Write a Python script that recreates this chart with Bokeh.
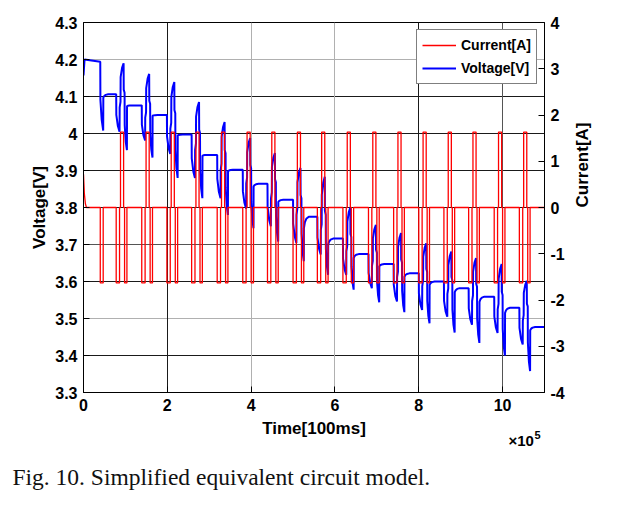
import math
from bokeh.plotting import figure
from bokeh.models import (Range1d, LinearAxis, FixedTicker, Grid, Label,
                          Legend, LegendItem, CustomJSTickFormatter)
from bokeh.embed import file_html
from bokeh.resources import INLINE

# ---------------- data ----------------
time_ticks = [0, 200000, 400000, 600000, 800000, 1000000]
voltage_ticks = [3.3, 3.4, 3.5, 3.6, 3.7, 3.8, 3.9, 4.0, 4.1, 4.2, 4.3]
current_ticks = [-4, -3, -2, -1, 0, 1, 2, 3, 4]

# grid lines as they appear (dark / mid / light)
grid_v_dark = [3.4, 3.6, 3.8, 3.9, 4.0, 4.1]
grid_v_mid = [3.7]
grid_v_light = [3.5, 4.2]
grid_t_dark = [200000, 800000]
grid_t_mid = [1000000]
grid_t_light = [400000, 600000]

# start of the record
start_time = [0, 2500, 40000]
start_voltage = [4.157, 4.200, 4.194]
start_current_time = [0, 2000, 4500, 7000]
start_current = [0.72, 0.30, 0.08, 0.0]

# first single discharge pulse
first_pulse = [40000, 47000]
first_dip = 4.008
first_after = 4.097

# test cycles (discharge - charge - discharge pulses), centre of the charge pulse [100 ms]
cycle_centre = [92000, 153000, 213000, 272000, 333000, 394000, 453000, 514000, 572000,
                633000, 694000, 754000, 814000, 874000, 933000, 994000, 1054000]
pulse_current = 1.63
rest_voltage = [4.106, 4.076, 4.050, 3.997, 3.942, 3.902, 3.864, 3.821, 3.775,
                3.716, 3.674, 3.647, 3.622, 3.600, 3.582, 3.559, 3.529, 3.477]
dip1_voltage = [4.005, 3.981, 3.945, 3.880, 3.825, 3.797, 3.749, 3.704, 3.673,
                3.618, 3.582, 3.546, 3.523, 3.505, 3.483, 3.461, 3.430]
peak_voltage = [4.190, 4.161, 4.139, 4.085, 4.031, 3.988, 3.947, 3.907, 3.883,
                3.800, 3.753, 3.731, 3.703, 3.681, 3.663, 3.647, 3.602]
dip2_voltage = [3.955, 3.935, 3.880, 3.825, 3.780, 3.744, 3.708, 3.655, 3.618,
                3.578, 3.544, 3.517, 3.487, 3.462, 3.434, 3.400, 3.358]
after_voltage = [4.074, 4.048, 3.995, 3.940, 3.898, 3.857, 3.815, 3.744, 3.700,
                 3.664, 3.641, 3.613, 3.591, 3.571, 3.545, 3.515, 3.468]
t_end = 1100000

# pulse timing relative to the cycle centre
NEG1 = (-14000, -6000)
POS = (-3700, 3700)
NEG2 = (6000, 11600)
EPS = 300

# ---------------- build the traces ----------------
ct = list(start_current_time)
ci = list(start_current)


def step(t0, t1, amp):
    ct.extend([t0, t0, t1, t1])
    ci.extend([0.0, amp, amp, 0.0])


step(first_pulse[0], first_pulse[1], -pulse_current)
for c in cycle_centre:
    step(c + NEG1[0], c + NEG1[1], -pulse_current)
    step(c + POS[0], c + POS[1], pulse_current)
    step(c + NEG2[0], c + NEG2[1], -pulse_current)
ct.append(t_end)
ci.append(0.0)

vt = list(start_time)
vv = list(start_voltage)


def ramp(t0, t1, v0, v1):
    vt.extend([t0 + EPS, (t0 + t1) / 2, t1])
    vv.extend([v0 + 0.55 * (v1 - v0), v0 + 0.85 * (v1 - v0), v1])


def relax(t0, v0, v1, t_stop):
    for dt, f in zip([EPS, 2500, 6000, 12000], [0.0, 0.5, 0.82, 1.0]):
        vt.append(t0 + dt)
        vv.append(v0 + (v1 - v0) * f)
    vt.append(t_stop)
    vv.append(v1)


ramp(first_pulse[0], first_pulse[1], start_voltage[-1], first_dip)
relax(first_pulse[1], first_after, rest_voltage[0], cycle_centre[0] + NEG1[0])
for k, c in enumerate(cycle_centre):
    vr = rest_voltage[k]
    d1, pk, d2 = dip1_voltage[k], peak_voltage[k], dip2_voltage[k]
    ramp(c + NEG1[0], c + NEG1[1], vr, d1)
    vt.extend([c + NEG1[1] + EPS, c + POS[0]])
    vv.extend([vr - 0.35 * (vr - d1), vr - 0.2 * (vr - d1)])
    ramp(c + POS[0], c + POS[1], vr, pk)
    vt.extend([c + POS[1] + EPS, c + NEG2[0]])
    vv.extend([vr + 0.15 * (pk - vr), vr + 0.05 * (pk - vr)])
    ramp(c + NEG2[0], c + NEG2[1], vr, d2)
    stop = cycle_centre[k + 1] + NEG1[0] if k + 1 < len(cycle_centre) else t_end
    relax(c + NEG2[1], after_voltage[k], rest_voltage[k + 1], stop)

# ---------------- figure ----------------
FONT = "Liberation Sans"
W, H = 604, 500
FL, FR, FT, FB = 83, 547, 22, 392   # frame edges on the page
# bottoms of the stacked label panels below the x axis (measured from earlier renders)
PANEL_X10, PANEL_SUP, PANEL_CAP = 461, 467, 500

p = figure(width=W, height=H, x_range=Range1d(0, 1.1e6), y_range=Range1d(3.3, 4.3),
           output_backend="svg", toolbar_location=None,
           min_border_left=FL, min_border_right=W - FR, min_border_top=FT,
           min_border_bottom=H - FB,
           x_axis_label="Time[100ms]", y_axis_label="Voltage[V]")
p.extra_y_ranges = {"current": Range1d(-4, 4)}
p.background_fill_color = "white"
p.border_fill_color = "white"
p.outline_line_color = "black"
p.outline_line_alpha = 1.0
p.outline_line_width = 1
p.xgrid.visible = False
p.ygrid.visible = False


def style_axis(ax, ticks, code, label_standoff):
    ax.ticker = FixedTicker(ticks=ticks)
    ax.formatter = CustomJSTickFormatter(code=code)
    ax.major_tick_in = 6
    ax.major_tick_out = 0
    ax.minor_tick_in = 0
    ax.minor_tick_out = 0
    ax.axis_line_color = "black"
    ax.major_tick_line_color = "black"
    ax.major_label_text_font = FONT
    ax.major_label_text_font_size = "16px"
    ax.major_label_text_font_style = "bold"
    ax.major_label_text_color = "black"
    ax.major_label_standoff = 6
    ax.axis_label_text_font = FONT
    ax.axis_label_text_font_size = "17px"
    ax.axis_label_text_font_style = "bold"
    ax.axis_label_text_color = "black"
    ax.axis_label_standoff = label_standoff


style_axis(p.xaxis[0], time_ticks, "return (tick/1e5).toFixed(0);", 5)
style_axis(p.yaxis[0], voltage_ticks,
           "return Math.abs(tick - Math.round(tick)) < 1e-6 ? tick.toFixed(0) : tick.toFixed(1);", 3)

right = LinearAxis(y_range_name="current", axis_label="Current[A]")
style_axis(right, current_ticks, "return tick.toFixed(0);", 15)
right.axis_label_orientation = math.pi / 2
p.add_layout(right, "right")

for dim, ticks, col in [(1, grid_v_dark, "#1a1a1a"), (1, grid_v_mid, "#555555"),
                        (1, grid_v_light, "#b0b0b0"), (0, grid_t_dark, "#1a1a1a"),
                        (0, grid_t_mid, "#555555"), (0, grid_t_light, "#b0b0b0")]:
    p.add_layout(Grid(dimension=dim, ticker=FixedTicker(ticks=ticks),
                      grid_line_color=col, grid_line_width=1))

rv = p.line(vt, vv, line_color="#0000FF", line_width=2)
rc = p.line(ct, ci, line_color="#FF0000", line_width=1.3, y_range_name="current")

legend = Legend(items=[LegendItem(label="Current[A]", renderers=[rc]),
                       LegendItem(label="Voltage[V]", renderers=[rv])],
                location="top_right", margin=7, padding=5, spacing=3,
                glyph_width=34, glyph_height=20, label_height=20, label_standoff=5,
                label_text_font=FONT, label_text_font_size="14px",
                label_text_font_style="bold", label_text_color="black",
                border_line_color="black", border_line_width=1,
                background_fill_color="white", background_fill_alpha=1.0)
p.add_layout(legend)

# texts below the axis live in side panels (annotations in the centre are clipped)
p.add_layout(Label(x=508 - FL, y=PANEL_X10 - 444, x_units="screen", y_units="screen",
                   text="×10", text_baseline="alphabetic",
                   text_font=FONT, text_font_size="15px", text_font_style="bold",
                   text_color="black"), "below")
p.add_layout(Label(x=534 - FL, y=PANEL_SUP - 436, x_units="screen", y_units="screen",
                   text="5", text_baseline="alphabetic",
                   text_font=FONT, text_font_size="11px", text_font_style="bold",
                   text_color="black"), "below")
p.add_layout(Label(x=12 - FL, y=PANEL_CAP - 485, x_units="screen", y_units="screen",
                   text="Fig. 10. Simplified equivalent circuit model.",
                   text_baseline="alphabetic",
                   text_font="Liberation Serif", text_font_size="23.5px",
                   text_color="#111111"), "below")

open("out.html", "w").write(file_html(p, INLINE))
